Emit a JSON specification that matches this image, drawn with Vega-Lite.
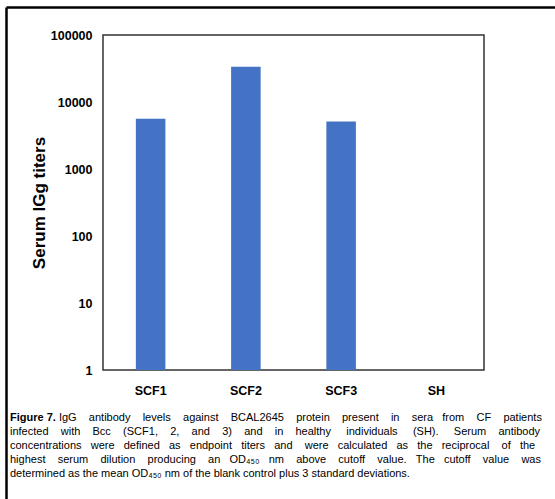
{
 "$schema": "https://vega.github.io/schema/vega-lite/v6.json",
 "width": 381,
 "height": 335,
 "autosize": {"type": "none"},
 "padding": {"left": 103, "top": 35, "right": 71, "bottom": 129},
 "background": "white",
 "config": {"view": {"stroke": "#333333", "strokeWidth": 1.5}, "font": "Liberation Sans"},
 "data": {"values": [
   {"group": "SCF1", "titer": 5600},
   {"group": "SCF2", "titer": 33500},
   {"group": "SCF3", "titer": 5100},
   {"group": "SH", "titer": 1}
 ]},
 "layer": [
  {
   "mark": {"type": "bar", "color": "#4472C4"},
   "encoding": {
    "x": {"field": "group", "type": "nominal", "sort": null,
      "scale": {"paddingInner": 0.69, "paddingOuter": 0.345},
      "axis": {"title": null, "labelAngle": 0, "domain": false, "ticks": false,
        "labelFont": "Liberation Sans", "labelFontWeight": "bold", "labelFontSize": 12.5,
        "labelColor": "black", "labelPadding": 14}},
    "y": {"field": "titer", "type": "quantitative",
      "scale": {"type": "log", "domain": [1, 100000]},
      "axis": {"title": "Serum IGg titers", "values": [1, 10, 100, 1000, 10000, 100000], "format": "d",
        "grid": false, "domain": false, "ticks": false,
        "labelFont": "Liberation Sans", "labelFontWeight": "bold", "labelFontSize": 12.5,
        "labelColor": "black", "labelPadding": 11,
        "titleFont": "Liberation Sans", "titleFontSize": 17, "titleFontWeight": "bold",
        "titleColor": "black", "titlePadding": 2}},
    "y2": {"datum": 1}
   }
  },
  {
   "mark": {"type": "point", "opacity": 0},
   "encoding": {
    "x": {"field": "titer", "type": "quantitative",
      "scale": {"domain": [0, 1], "range": [-97, 452], "nice": false, "zero": false},
      "axis": {"orient": "top", "offset": 28, "title": null, "labels": false, "ticks": false,
        "grid": false, "domainColor": "black", "domainWidth": 2.5}},
    "y": {"field": "titer", "type": "quantitative",
      "scale": {"domain": [0, 1], "range": [464, -28], "nice": false, "zero": false},
      "axis": {"orient": "left", "offset": 97, "title": null, "labels": false, "ticks": false,
        "grid": false, "domainColor": "black", "domainWidth": 2.5}}
   }
  }
 ],
 "resolve": {"scale": {"x": "independent", "y": "independent"}},
 "title": {
  "text": "Figure 7.",
  "subtitle": [
   "\u200b\u00a0\u00a0\u00a0\u00a0\u00a0\u00a0\u00a0\u00a0\u00a0\u00a0\u00a0\u00a0\u00a0\u00a0\u00a0\u00a0IgG\u00a0\u00a0\u00a0\u00a0antibody\u00a0\u00a0\u00a0\u00a0levels\u00a0\u00a0\u00a0\u00a0against\u00a0\u00a0\u00a0\u00a0BCAL2645\u00a0\u00a0\u00a0\u00a0protein\u00a0\u00a0\u00a0\u00a0present\u00a0\u00a0\u00a0\u00a0in\u00a0\u00a0\u00a0\u00a0sera\u00a0\u00a0\u00a0from\u00a0\u00a0\u00a0\u00a0CF\u00a0\u00a0\u00a0\u00a0patients",
   "infected\u00a0\u00a0\u00a0\u00a0with\u00a0\u00a0\u00a0\u00a0Bcc\u00a0\u00a0\u00a0\u00a0(SCF1,\u00a0\u00a0\u00a0\u00a02,\u00a0\u00a0\u00a0\u00a0and\u00a0\u00a0\u00a0\u00a03)\u00a0\u00a0\u00a0\u00a0and\u00a0\u00a0\u00a0\u00a0in\u00a0\u00a0\u00a0\u00a0healthy\u00a0\u00a0\u00a0\u00a0\u00a0individuals\u00a0\u00a0\u00a0\u00a0\u00a0(SH).\u00a0\u00a0\u00a0\u00a0\u00a0Serum\u00a0\u00a0\u00a0\u00a0antibody",
   "concentrations\u00a0\u00a0\u00a0were\u00a0\u00a0\u00a0defined\u00a0\u00a0\u00a0as\u00a0\u00a0\u00a0endpoint\u00a0\u00a0\u00a0titers\u00a0\u00a0\u00a0and\u00a0\u00a0\u00a0\u00a0were\u00a0\u00a0\u00a0calculated\u00a0\u00a0\u00a0as\u00a0\u00a0\u00a0the\u00a0\u00a0\u00a0reciprocal\u00a0\u00a0\u00a0\u00a0of\u00a0\u00a0\u00a0the",
   "highest\u00a0\u00a0\u00a0\u00a0serum\u00a0\u00a0\u00a0\u00a0dilution\u00a0\u00a0\u00a0\u00a0producing\u00a0\u00a0\u00a0\u00a0an\u00a0\u00a0\u00a0OD₄₅₀\u00a0\u00a0\u00a0nm\u00a0\u00a0\u00a0\u00a0above\u00a0\u00a0\u00a0\u00a0cutoff\u00a0\u00a0\u00a0\u00a0value.\u00a0\u00a0\u00a0The\u00a0\u00a0\u00a0cutoff\u00a0\u00a0\u00a0\u00a0value\u00a0\u00a0\u00a0\u00a0was",
   "determined as the mean OD₄₅₀ nm of the blank control plus 3 standard deviations."
  ],
  "orient": "bottom", "anchor": "start", "frame": "group",
  "offset": -115, "dx": -93,
  "font": "Liberation Sans", "fontSize": 11, "fontWeight": "bold", "color": "black",
  "subtitleFont": "Liberation Sans", "subtitleFontSize": 11, "subtitleColor": "black",
  "subtitleLineHeight": 14, "subtitlePadding": -11
 }
}
